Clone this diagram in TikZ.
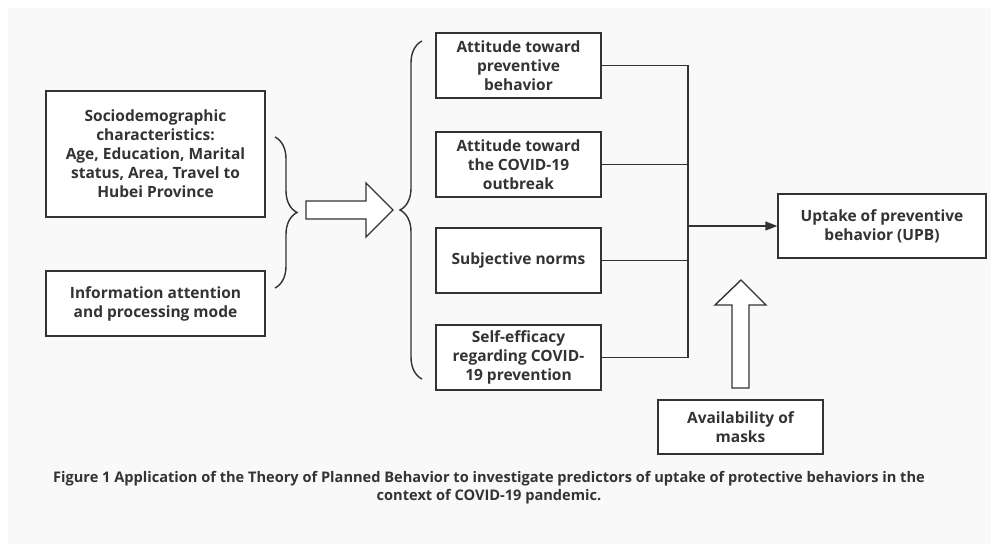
\documentclass[tikz,border=0pt]{standalone}
\usepackage{fontspec}
\setmainfont{Open Sans}
\usetikzlibrary{positioning,calc,decorations.pathreplacing,arrows.meta}
\definecolor{ink}{HTML}{333333}
\definecolor{paper}{HTML}{F9F9F9}

\begin{document}
\begin{tikzpicture}[
    x=1pt, y=-1pt,
    box/.style={draw=ink, line width=1.4pt, fill=white, text=ink, align=center,
        inner sep=0pt, font=\fontsize{15.5}{19}\selectfont\bfseries},
    wire/.style={draw=ink, line width=1.4pt},
    arr/.style={wire, -{Triangle[length=12pt, width=9pt]}},
    curly/.style={draw=ink, line width=1.4pt, decorate, decoration={brace, amplitude=22pt}},
    fat/.style={draw=ink, line width=1.4pt, fill=white, line join=miter}
]
\useasboundingbox (0,0) rectangle (999,552);
\fill[white] (0,0) rectangle (999,552);
\fill[paper] (8,8) rectangle (991,544);

% ===== Input factors =====
\node[box, minimum width=219pt, minimum height=126pt] (socio) at (155.5,154)
    {Sociodemographic\\characteristics:\\Age, Education, Marital\\status, Area, Travel to\\Hubei Province};
\node[box, minimum width=219pt, minimum height=65pt] (info) at (155.5,303.5)
    {Information attention\\and processing mode};

% Brace grouping the inputs
\coordinate (lbTop) at (275,137);
\coordinate (lbBot) at (275,288);
\draw[curly] (lbTop) -- (lbBot);

% Broad arrow to the TPB constructs
\draw[fat] (306,201) -- (366,201) -- (366,183) -- (393,210) -- (366,237)
    -- (366,219) -- (306,219) -- cycle;

% Brace grouping the constructs
\coordinate (rbTop) at (422,41);
\coordinate (rbBot) at (422,379);
\draw[curly] (rbBot) -- (rbTop);

% ===== TPB constructs =====
\node[box, minimum width=165pt, minimum height=65pt] (att1) at (518.5,65.5)
    {Attitude toward\\preventive\\behavior};
\node[box, minimum width=165pt, minimum height=65pt] (att2) at (518.5,164.5)
    {Attitude toward\\the COVID-19\\outbreak};
\node[box, minimum width=165pt, minimum height=65pt] (norms) at (518.5,260.5)
    {Subjective norms};
\node[box, minimum width=165pt, minimum height=65pt] (eff) at (518.5,357.5)
    {Self-efficacy\\regarding COVID-\\19 prevention};

% ===== Outcome =====
\node[box, minimum width=208pt, minimum height=64pt] (upb) at (882,226)
    {Uptake of preventive\\behavior (UPB)};
\node[box, minimum width=165pt, minimum height=54pt] (masks) at (740.5,427)
    {Availability of\\masks};

% Bus joining the constructs
\coordinate (bus) at (688,226);
\draw[wire] (att1.east) -| (bus);
\draw[wire] (att2.east) -| (bus);
\draw[wire] (norms.east) -| (bus);
\draw[wire] (eff.east) -| (bus);
\draw[arr] (bus) -- (upb.west);

% Broad arrow from masks
\draw[fat] (741,280) -- (766,305) -- (749,305) -- (749,388) -- (732,388)
    -- (732,305) -- (715,305) -- cycle;

% Caption
\node[text=ink, align=center, font=\fontsize{14.6}{18}\selectfont\bfseries] (caption) at (489,488)
    {Figure 1 Application of the Theory of Planned Behavior to investigate predictors of uptake of protective behaviors in the\\context of COVID-19 pandemic.};

\end{tikzpicture}
\end{document}
